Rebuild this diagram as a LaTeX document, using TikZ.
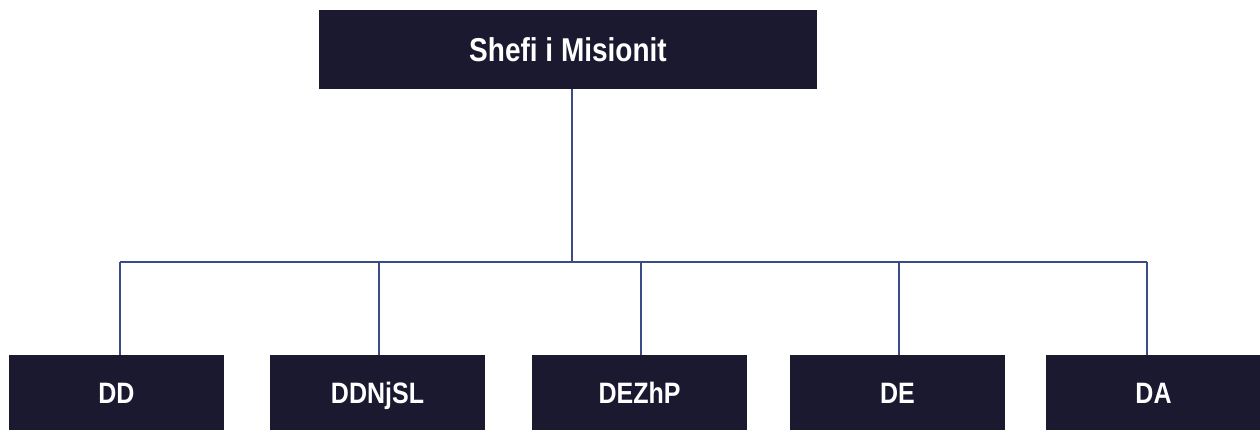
\documentclass[tikz,border=0pt]{standalone}
\usepackage{fontspec}
\setmainfont{Liberation Sans}
\definecolor{boxfill}{RGB}{26,25,48}
\definecolor{linecol}{RGB}{60,74,135}
\newcommand{\talltext}[1]{\scalebox{1}[1.18]{#1}}
\begin{document}
\begin{tikzpicture}[x=1pt,y=-1pt,
  orgbox/.style={draw=none,fill=boxfill,text=white,font=\bfseries\fontsize{25}{30}\selectfont,inner sep=0pt,anchor=center,text height=21.1pt,text depth=0pt},
  link/.style={draw=linecol,line width=1.5pt}]
\useasboundingbox (0,0) rectangle (1260,430);
\clip (0,0) rectangle (1260,430);
\node[orgbox,minimum width=498pt,minimum height=79pt,font=\bfseries\fontsize{28}{34}\selectfont,text height=23.7pt] (top) at (568,49.5) {\talltext{Shefi i Misionit}};
\node[orgbox,minimum width=215pt,minimum height=75pt] (dd) at (116.5,392.5) {\talltext{DD}};
\node[orgbox,minimum width=215pt,minimum height=75pt] (ddn) at (377.5,392.5) {\talltext{DDNjSL}};
\node[orgbox,minimum width=215pt,minimum height=75pt] (dez) at (639.5,392.5) {\talltext{DEZhP}};
\node[orgbox,minimum width=215pt,minimum height=75pt] (de) at (897.5,392.5) {\talltext{DE}};
\node[orgbox,minimum width=215pt,minimum height=75pt] (da) at (1153.5,392.5) {\talltext{DA}};
\coordinate (t0) at (572,262);
\coordinate (b1) at (120,262);
\coordinate (b2) at (379,262);
\coordinate (b3) at (641,262);
\coordinate (b4) at (899,262);
\coordinate (b5) at (1147,262);
\draw[link] (top.south -| t0) -- (t0);
\draw[link] (b1) -- (b5);
\draw[link] (b1) -- (b1 |- dd.north);
\draw[link] (b2) -- (b2 |- ddn.north);
\draw[link] (b3) -- (b3 |- dez.north);
\draw[link] (b4) -- (b4 |- de.north);
\draw[link] (b5) -- (b5 |- da.north);
\end{tikzpicture}
\end{document}
